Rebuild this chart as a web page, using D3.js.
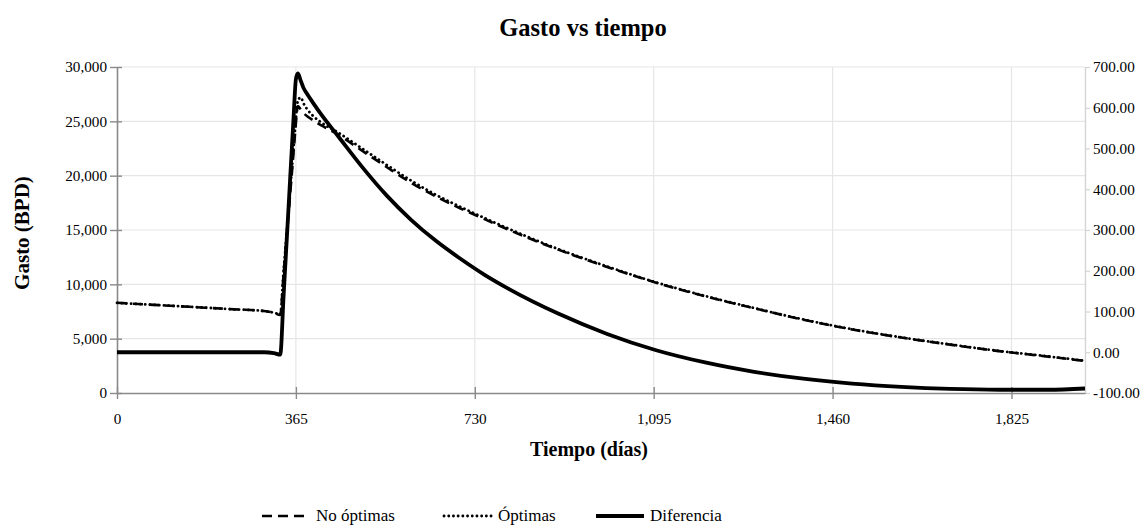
<!DOCTYPE html>
<html>
<head>
<meta charset="utf-8">
<script src="https://cdn.jsdelivr.net/npm/d3@7"></script>
<style>
  html, body { margin: 0; padding: 0; background: #fff; }
  svg { display: block; font-family: "Liberation Serif", "Times New Roman", serif; }
</style>
</head>
<body>
<svg id="chart" width="1144" height="527"></svg>
<script>
// Tiempo (días)
const dias = [0, 60, 120, 180, 240, 300, 320, 333, 340, 350, 360, 365, 369, 375, 380, 390, 400, 420, 450, 500,
  550, 600, 650, 700, 750, 800, 900, 1000, 1100, 1200, 1300, 1400, 1500, 1600, 1700, 1800, 1900, 1975];

// Gasto (BPD), eje izquierdo
const noOptimas = [8300, 8150, 8000, 7850, 7700, 7550, 7380, 7180, 11000, 16500, 22000, 24800, 26400, 26100, 25800, 25400, 25100, 24550, 23800, 22300,
  20800, 19350, 18100, 17000, 16000, 15000, 13200, 11600, 10150, 8900, 7800, 6750, 5850, 5100, 4450, 3850, 3350, 2950];

const optimas = [8300, 8150, 8000, 7850, 7700, 7550, 7390, 7250, 11300, 16800, 22400, 25200, 26900, 27200, 26700, 26000, 25500, 24800, 24000, 22500,
  21000, 19550, 18250, 17150, 16100, 15100, 13250, 11650, 10180, 8930, 7820, 6770, 5870, 5120, 4470, 3870, 3370, 2970];

// Diferencia, eje derecho
const diferencia = [0, 0, 0, 0, 0, 0, -2, -6, 141, 355, 570, 670, 684, 666, 650, 630, 612, 578, 532, 455,
  385, 325, 274, 230, 190, 155, 95, 45, 5, -25, -48, -65, -77, -85, -90, -92, -92, -89];

const xTicks = [0, 365, 730, 1095, 1460, 1825];
const yLeftTicks = [0, 5000, 10000, 15000, 20000, 25000, 30000];
const yRightTicks = [-100, 0, 100, 200, 300, 400, 500, 600, 700];

const seriesNames = ["No óptimas", "Óptimas", "Diferencia"];

const svg = d3.select("#chart");
const m = { left: 117, right: 1085, top: 67, bottom: 393 };

const x = d3.scaleLinear().domain([0, 1975]).range([m.left, m.right]);
const yL = d3.scaleLinear().domain([0, 30000]).range([m.bottom, m.top]);
const yR = d3.scaleLinear().domain([-100, 700]).range([m.bottom, m.top]);

// líneas de cuadrícula
const grid = svg.append("g");
grid.selectAll("line.h").data(yLeftTicks.filter(d => d > 0)).join("line")
  .attr("x1", m.left).attr("x2", m.right)
  .attr("y1", d => yL(d)).attr("y2", d => yL(d))
  .attr("stroke", "#e6e6e6").attr("stroke-width", 1.2);
grid.selectAll("line.v").data(xTicks.filter(d => d > 0)).join("line")
  .attr("x1", d => x(d)).attr("x2", d => x(d))
  .attr("y1", m.top).attr("y2", m.bottom)
  .attr("stroke", "#e6e6e6").attr("stroke-width", 1.2);

// ejes
const axisGray = "#8a8a8a";
const tickFont = "15.2px";
const gL = svg.append("g").attr("transform", `translate(${m.left},0)`)
  .call(d3.axisLeft(yL).tickValues(yLeftTicks).tickFormat(d3.format(",")).tickSizeInner(7).tickSizeOuter(0).tickPadding(3));
const gR = svg.append("g").attr("transform", `translate(${m.right},0)`)
  .call(d3.axisRight(yR).tickValues(yRightTicks).tickFormat(d => d.toFixed(2)).tickSizeInner(5).tickSizeOuter(0).tickPadding(3));
const gB = svg.append("g").attr("transform", `translate(0,${m.bottom})`)
  .call(d3.axisBottom(x).tickValues(xTicks).tickFormat(d3.format(",")).tickSizeInner(6).tickSizeOuter(0).tickPadding(14));

[gL, gB].forEach(g => {
  g.select(".domain").attr("stroke", axisGray).attr("stroke-width", 1.6);
  g.selectAll(".tick line").attr("stroke", axisGray).attr("stroke-width", 1.4);
});
gB.selectAll(".tick line").attr("y1", -6);
gL.selectAll(".tick line").attr("x1", 5);
gR.select(".domain").attr("stroke", "#d4d4d4").attr("stroke-width", 1.4);
gR.selectAll(".tick line").attr("stroke", "#d4d4d4").attr("stroke-width", 1.2);
[gL, gR, gB].forEach(g => g.selectAll(".tick text")
  .attr("fill", "#000").style("font-size", tickFont).style("font-family", "Liberation Serif"));

// series
const line = (vals, ys) => d3.line().x((d, i) => x(dias[i])).y((d) => ys(d)).curve(d3.curveMonotoneX)(vals);

const styles = [
  { dash: "10,6", width: 2.6, cap: "butt" },
  { dash: "0.1,4.6", width: 2.8, cap: "round" },
  { dash: null, width: 3.8, cap: "butt" }
];

svg.append("path").attr("d", line(diferencia, yR))
  .attr("fill", "none").attr("stroke", "#000").attr("stroke-width", styles[2].width).attr("stroke-linejoin", "round");
svg.append("path").attr("d", line(noOptimas, yL))
  .attr("fill", "none").attr("stroke", "#000").attr("stroke-width", styles[0].width)
  .attr("stroke-dasharray", styles[0].dash).attr("stroke-linecap", styles[0].cap);
svg.append("path").attr("d", line(optimas, yL))
  .attr("fill", "none").attr("stroke", "#000").attr("stroke-width", styles[1].width)
  .attr("stroke-dasharray", styles[1].dash).attr("stroke-linecap", styles[1].cap);

// títulos
svg.append("text").attr("x", 583).attr("y", 36).attr("text-anchor", "middle")
  .style("font-size", "24.5px").style("font-weight", "bold").text("Gasto vs tiempo");
svg.append("text").attr("x", 589).attr("y", 456).attr("text-anchor", "middle")
  .style("font-size", "20px").style("font-weight", "bold").text("Tiempo (días)");
svg.append("text").attr("transform", "translate(29,233) rotate(-90)")
  .attr("text-anchor", "middle")
  .style("font-size", "21px").style("font-weight", "bold").text("Gasto (BPD)");

// leyenda
const legendX = [262, 444, 596];
const lg = svg.append("g");
seriesNames.forEach((name, i) => {
  const s = styles[i];
  lg.append("line").attr("x1", legendX[i]).attr("x2", legendX[i] + 48)
    .attr("y1", 516).attr("y2", 516)
    .attr("stroke", "#000").attr("stroke-width", s.width)
    .attr("stroke-dasharray", s.dash).attr("stroke-linecap", s.cap);
  lg.append("text").attr("x", legendX[i] + 54).attr("y", 521)
    .style("font-size", "17px").text(name);
});
</script>
</body>
</html>
